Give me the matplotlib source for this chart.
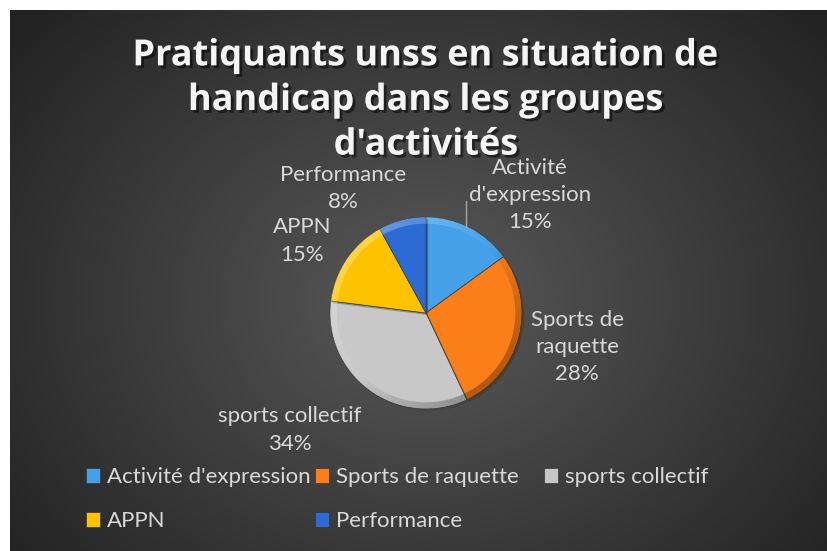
import numpy as np
import matplotlib.pyplot as plt
import matplotlib.patheffects as pe
from matplotlib.patches import Rectangle, Wedge

# Data
categories = ["Activité d'expression", "Sports de raquette", "sports collectif", "APPN", "Performance"]
label_texts = ["Activité\nd'expression", "Sports de\nraquette", "sports collectif", "APPN", "Performance"]
values = [15, 28, 34, 15, 8]
colors = ['#45a0e8', '#fa7e1a', '#c8c8c8', '#fdc300', '#2b6bd3']
title = "Pratiquants unss en situation de\nhandicap dans les groupes\nd'activités"

W, H = 828, 551
fig = plt.figure(figsize=(W / 100, H / 100), dpi=100)
fig.patch.set_facecolor('white')

# dark panel with radial gradient
bg = fig.add_axes([10 / W, 0, (W - 10) / W, (H - 10) / H])
bg.set_axis_off()
yy, xx = np.mgrid[0:541, 0:818]
d = np.sqrt(((xx - 415) / 520.0) ** 2 + ((yy - 290) / 420.0) ** 2)
shade = np.clip(0.35 - 0.21 * d, 0.14, 0.35)
bg.imshow(np.dstack([shade] * 3), aspect='auto', extent=[0, 1, 0, 1], origin='upper')

text_col = '#d9d9d9'
font = 'Lato'

fig.text(426 / W, 1 - 101 / H, title, ha='center', va='center', fontsize=26,
         fontweight='bold', family='Open Sans', color='#f4f4f4', linespacing=1.32,
         path_effects=[pe.withSimplePatchShadow(offset=(2, -2), shadow_rgbFace='black', alpha=0.5)])

# pie axes: radius 1 -> 96 px
cx, cy, R = 426, 313, 96
half = 1.25 * R
ax = fig.add_axes([(cx - half) / W, 1 - (cy + half) / H, 2 * half / W, 2 * half / H])
ax.set_xlim(-1.25, 1.25)
ax.set_ylim(-1.25, 1.25)
ax.set_aspect('equal')
ax.set_axis_off()
wedges, _ = ax.pie(values, colors=colors, startangle=90, counterclock=False, radius=1,
                   wedgeprops=dict(edgecolor='#3a3a3a', linewidth=0.5))
for w in wedges:
    w.set_path_effects([pe.withSimplePatchShadow(offset=(1.5, -1.5), alpha=0.4)])

# bevel look on outer rim: light from top-left, dark to bottom-right
for w in wedges:
    t1, t2 = sorted([w.theta1, w.theta2])
    for a in np.arange(t1, t2, 1.0):
        k = np.cos(np.deg2rad(a + 0.5 - 135))
        c = 'white' if k > 0 else 'black'
        ax.add_patch(Wedge((0, 0), 1, a, min(a + 1.05, t2), width=0.07,
                           facecolor=c, alpha=0.28 * abs(k), lw=0))

# data labels
total = sum(values)
label_pos = [(1.083, 1.23), (1.573, -0.354), (-1.417, -1.219), (-1.29, 0.75), (-0.865, 1.30)]
for txt, v, (lx, ly) in zip(label_texts, values, label_pos):
    ax.text(lx, ly, f"{txt}\n{round(100 * v / total)}%", ha='center', va='center',
            fontsize=16, family=font, color=text_col, linespacing=1.45, clip_on=False)

# leader line for first slice
w0 = wedges[0]
mid = np.deg2rad((w0.theta1 + w0.theta2) / 2)
ax.plot([np.cos(mid) - 0.04, np.cos(mid) - 0.04], [np.sin(mid), 1.17], color='#a6a6a6', lw=1, clip_on=False)

# legend: fixed-width columns, row-major
col_x = [86, 315, 544]
row_y = [477, 521]
for i, cat in enumerate(categories):
    r, c = divmod(i, 3)
    h = Rectangle((0, 0), 1, 1, facecolor=colors[i], edgecolor='#333333', lw=0.5)
    leg = fig.legend([h], [cat], loc='center left', bbox_to_anchor=(col_x[c] / W, 1 - row_y[r] / H),
                     frameon=False, prop={'family': font, 'size': 16}, handlelength=0.65,
                     handleheight=0.65, handletextpad=0.3, borderaxespad=0, borderpad=0,
                     labelcolor=text_col)

fig.savefig('out.png', dpi=100)
